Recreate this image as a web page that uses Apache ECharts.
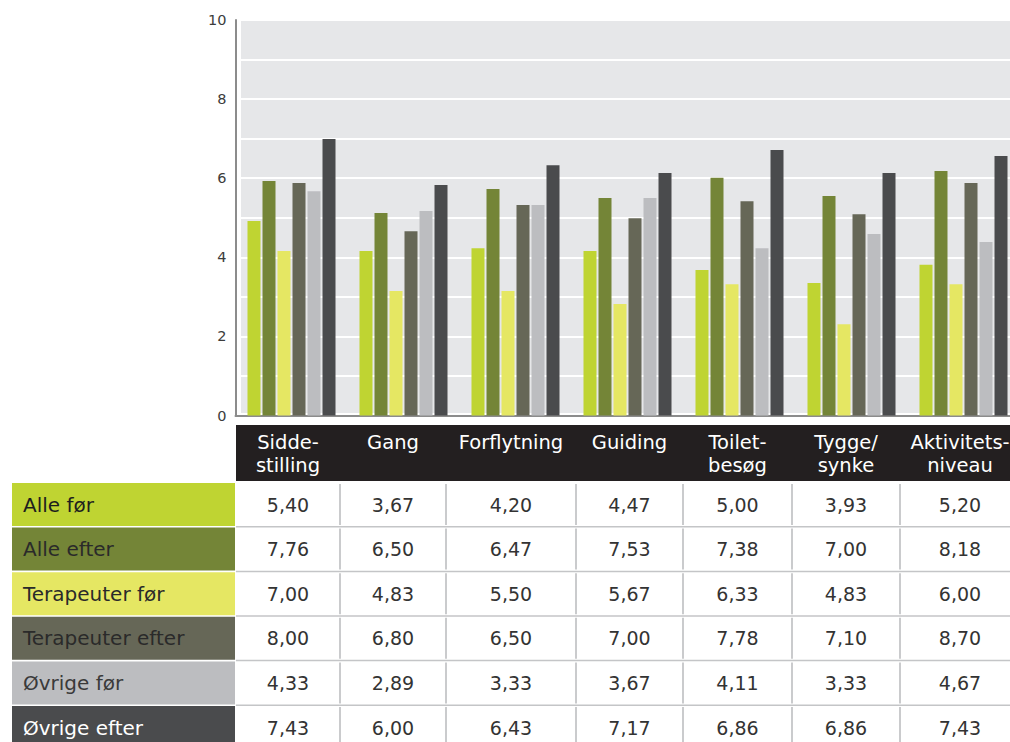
<!DOCTYPE html>
<html>
<head>
<meta charset="utf-8">
<script src="https://cdn.jsdelivr.net/npm/echarts@6/dist/echarts.min.js"></script>
<style>
  html, body { margin: 0; padding: 0; background: #ffffff; overflow: hidden; }
  #chart { width: 1020px; height: 742px; }
</style>
</head>
<body>
<div id="chart"></div>
<script>
// Categories (header of the table)
const categories = ['Sidde-\nstilling', 'Gang', 'Forflytning', 'Guiding', 'Toilet-\nbesøg', 'Tygge/\nsynke', 'Aktivitets-\nniveau'];
const seriesNames = ['Alle før', 'Alle efter', 'Terapeuter før', 'Terapeuter efter', 'Øvrige før', 'Øvrige efter'];

// Bar heights per group
const barsAlleFoer        = [4.92, 4.16, 4.23, 4.16, 3.68, 3.35, 3.81];
const barsAlleEfter       = [5.93, 5.12, 5.73, 5.50, 6.01, 5.55, 6.18];
const barsTerapeuterFoer  = [4.16, 3.15, 3.15, 2.82, 3.32, 2.31, 3.32];
const barsTerapeuterEfter = [5.88, 4.66, 5.32, 4.99, 5.42, 5.09, 5.88];
const barsOevrigeFoer     = [5.67, 5.17, 5.32, 5.50, 4.23, 4.59, 4.39];
const barsOevrigeEfter    = [6.99, 5.83, 6.33, 6.13, 6.71, 6.13, 6.56];

// Table values
const tableAlleFoer        = [5.40, 3.67, 4.20, 4.47, 5.00, 3.93, 5.20];
const tableAlleEfter       = [7.76, 6.50, 6.47, 7.53, 7.38, 7.00, 8.18];
const tableTerapeuterFoer  = [7.00, 4.83, 5.50, 5.67, 6.33, 4.83, 6.00];
const tableTerapeuterEfter = [8.00, 6.80, 6.50, 7.00, 7.78, 7.10, 8.70];
const tableOevrigeFoer     = [4.33, 2.89, 3.33, 3.67, 4.11, 3.33, 4.67];
const tableOevrigeEfter    = [7.43, 6.00, 6.43, 7.17, 6.86, 6.86, 7.43];

// Y axis tick labels
const yTickLabels = [0, 2, 4, 6, 8, 10];

const barRows = [barsAlleFoer, barsAlleEfter, barsTerapeuterFoer, barsTerapeuterEfter, barsOevrigeFoer, barsOevrigeEfter];
const tableRows = [tableAlleFoer, tableAlleEfter, tableTerapeuterFoer, tableTerapeuterEfter, tableOevrigeFoer, tableOevrigeEfter];

const colors = ['#bfd432', '#748537', '#e5e763', '#666757', '#bcbdc0', '#4a4b4d'];
const rowTextColors = ['#1e1e1e', '#2a2a2a', '#2a2a2a', '#2a2a2a', '#3a3a3a', '#ffffff'];

const FONT = '"DejaVu Sans", sans-serif';

// Table geometry
const colEdges = [236, 340, 446, 576, 683, 792, 900, 1020];
const headerTop = 425, headerHeight = 56;
const rowTop0 = 483, rowPitch = 44.6, cellHeight = 43;

const fmt = v => v.toFixed(2).replace('.', ',');

const graphics = [];

// plot background
graphics.push({
  type: 'rect', z: -10,
  shape: { x: 241, y: 21, width: 790, height: 392 },
  style: { fill: '#e6e7e9' }
});

// table header
graphics.push({
  type: 'rect',
  shape: { x: colEdges[0], y: headerTop, width: colEdges[7] - colEdges[0], height: headerHeight },
  style: { fill: '#231f20' }
});
categories.forEach((c, i) => {
  graphics.push({
    type: 'text',
    x: (colEdges[i] + colEdges[i + 1]) / 2,
    y: 431,
    style: {
      text: c, fill: '#ffffff', font: '19.5px ' + FONT,
      textAlign: 'center', textVerticalAlign: 'top', lineHeight: 23
    }
  });
});

// table body
seriesNames.forEach((name, r) => {
  const top = rowTop0 + r * rowPitch;
  graphics.push({
    type: 'rect',
    shape: { x: 12, y: top, width: 223, height: cellHeight },
    style: { fill: colors[r] }
  });
  graphics.push({
    type: 'text', x: 23, y: top + cellHeight / 2,
    style: { text: name, fill: rowTextColors[r], font: '20px ' + FONT, textAlign: 'left', textVerticalAlign: 'middle' }
  });
  if (r > 0) {
    graphics.push({
      type: 'line',
      shape: { x1: colEdges[0], y1: top - 0.8, x2: 1020, y2: top - 0.8 },
      style: { stroke: '#c4c5c7', lineWidth: 1.5 }
    });
  }
  for (let c = 1; c < colEdges.length - 1; c++) {
    graphics.push({
      type: 'line',
      shape: { x1: colEdges[c], y1: top + 1, x2: colEdges[c], y2: top + cellHeight - 1 },
      style: { stroke: '#b9babc', lineWidth: 1.5 }
    });
  }
  tableRows[r].forEach((v, c) => {
    graphics.push({
      type: 'text',
      x: (colEdges[c] + colEdges[c + 1]) / 2,
      y: top + cellHeight / 2,
      style: { text: fmt(v), fill: '#333333', font: '19px ' + FONT, textAlign: 'center', textVerticalAlign: 'middle' }
    });
  });
});

const chart = echarts.init(document.getElementById('chart'), null, { renderer: 'svg' });

chart.setOption({
  animation: false,
  backgroundColor: '#ffffff',
  color: colors,
  grid: { left: 235.5, top: 20, width: 784, height: 395.5, containLabel: false },
  xAxis: {
    type: 'category',
    data: categories,
    axisLine: { show: true, lineStyle: { color: '#8c8c8c', width: 2 } },
    axisTick: { show: false },
    axisLabel: { show: false },
    splitLine: { show: false }
  },
  yAxis: {
    type: 'value',
    min: 0, max: 10, interval: 1,
    axisLine: { show: true, lineStyle: { color: '#8c8c8c', width: 2 } },
    axisTick: { show: false },
    axisLabel: {
      color: '#3c3c3c', fontSize: 14.5, fontFamily: FONT, margin: 9,
      formatter: v => (yTickLabels.includes(v) ? String(v) : '')
    },
    splitLine: { show: true, lineStyle: { color: '#ffffff', width: 2 } }
  },
  series: seriesNames.map((name, i) => ({
    name: name,
    type: 'bar',
    data: barRows[i],
    barWidth: 13,
    barGap: '15.4%',
    itemStyle: { color: colors[i] }
  })),
  graphic: graphics
});
</script>
</body>
</html>
